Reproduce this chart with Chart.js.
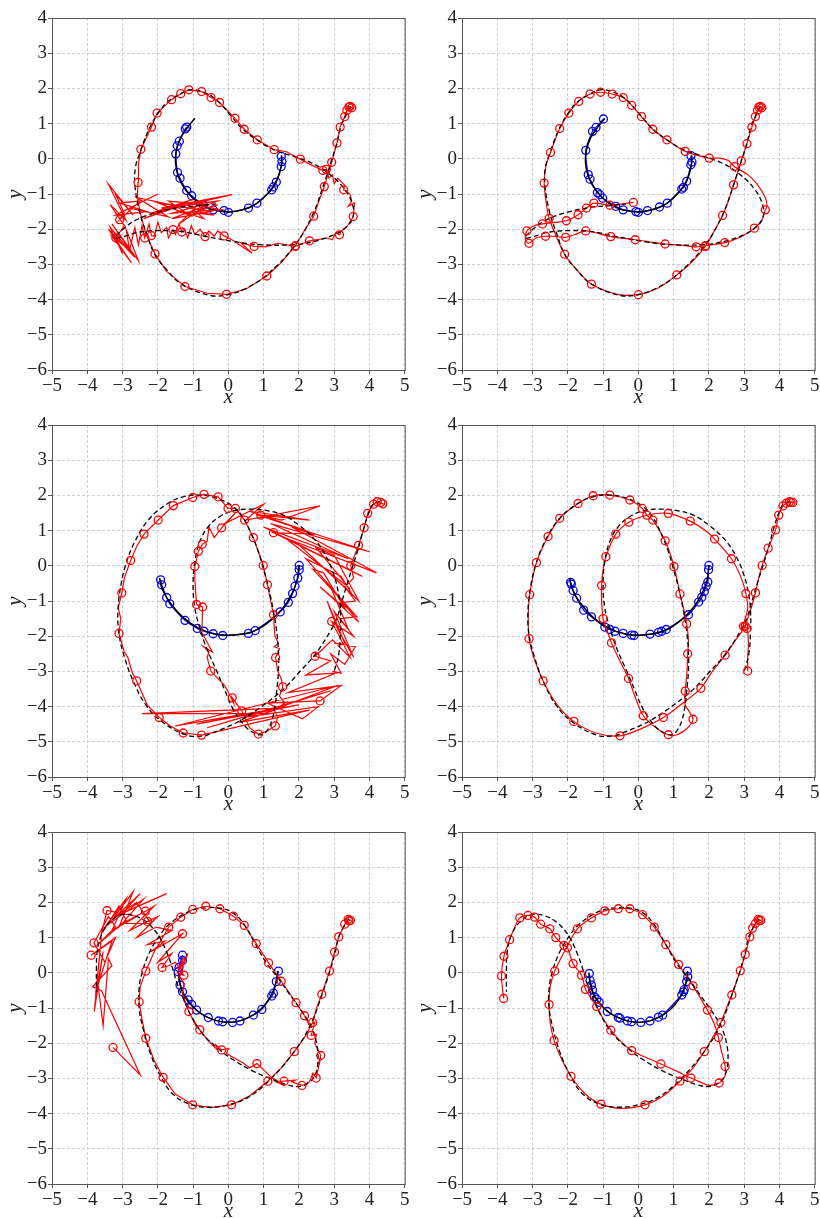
<!DOCTYPE html>
<html>
<head>
<meta charset="utf-8">
<script src="https://cdn.jsdelivr.net/npm/chart.js@4.4.0/dist/chart.umd.min.js"></script>
<style>
  html, body { margin: 0; padding: 0; background: #fff; width: 820px; height: 1218px; overflow: hidden; position: relative; }
  .cell { position: absolute; width: 410px; height: 412px; }
</style>
</head>
<body>
<div class="cell" style="left:0;top:0"><canvas id="p1" width="410" height="412"></canvas></div>
<div class="cell" style="left:410px;top:0"><canvas id="p2" width="410" height="412"></canvas></div>
<div class="cell" style="left:0;top:407px"><canvas id="p3" width="410" height="412"></canvas></div>
<div class="cell" style="left:410px;top:407px"><canvas id="p4" width="410" height="412"></canvas></div>
<div class="cell" style="left:0;top:814px"><canvas id="p5" width="410" height="412"></canvas></div>
<div class="cell" style="left:410px;top:814px"><canvas id="p6" width="410" height="412"></canvas></div>
<script>
'use strict'

// axis limits
var xRange = [-5, 5];
var yRange = [-6, 4];

// ---- top row: reference curves ----
var solidTop = [[-0.95,1.15],[-1.15,0.9],[-1.35,0.6],[-1.47,0.25],[-1.5,-0.1],[-1.42,-0.5],[-1.2,-0.9],[-0.85,-1.25],[-0.45,-1.45],[0,-1.51],[0.4,-1.45],[0.8,-1.27],[1.15,-0.95],[1.38,-0.6],[1.5,-0.2],[1.51,0.1]];
var dashTop = [[3.46,1.49],[3.32,1.2],[3.19,0.92],[3.08,0.45],[2.92,-0.06],[2.7,-0.74],[2.39,-1.59],[1.9,-2.44],[1.09,-3.3],[0.52,-3.67],[0,-3.86],[-0.52,-3.88],[-1.33,-3.56],[-1.75,-3.15],[-2.09,-2.71],[-2.32,-2.11],[-2.51,-1.54],[-2.65,-0.74],[-2.63,-0.22],[-2.51,0.16],[-2.25,0.84],[-1.99,1.3],[-1.71,1.63],[-1.37,1.84],[-1.09,1.96],[-0.76,1.91],[-0.43,1.75],[-0.19,1.53],[0.09,1.2],[0.43,0.82],[0.81,0.54],[1.28,0.26],[1.85,0.07],[2.37,-0.12],[2.89,-0.45],[3.27,-0.83],[3.51,-1.26],[3.54,-1.64],[3.36,-1.92],[2.99,-2.16],[2.42,-2.35],[1.85,-2.44],[0.9,-2.44],[0.14,-2.35],[-0.62,-2.21],[-1.37,-2.06],[-1.94,-2.04],[-2.51,-2.08],[-3.2,-2.25],[-2.89,-1.92],[-2.51,-1.69],[-1.94,-1.5],[-1.37,-1.38],[-0.81,-1.33],[-0.35,-1.28]];

// top row: observed part (blue)
var blueTopL = [[-1.18,0.9],[-1.22,0.85],[-1.39,0.5],[-1.45,0.37],[-1.49,0.14],[-1.44,-0.39],[-1.37,-0.55],[-1.18,-0.9],[-1.04,-1.05],[-0.71,-1.31],[-0.43,-1.45],[-0.12,-1.47],[0,-1.52],[0.57,-1.4],[0.81,-1.26],[1.23,-0.88],[1.28,-0.8],[1.36,-0.66],[1.5,-0.22],[1.52,-0.08],[1.5,0.07]];
var blueTopR = [[-0.99,1.13],[-1.2,0.89],[-1.3,0.78],[-1.49,0.24],[-1.42,-0.45],[-1.37,-0.58],[-1.16,-0.96],[-1.09,-1.02],[-1.01,-1.12],[-0.64,-1.35],[-0.43,-1.45],[-0.07,-1.5],[0,-1.52],[0.26,-1.47],[0.6,-1.37],[0.82,-1.26],[1.23,-0.86],[1.28,-0.81],[1.37,-0.64],[1.49,-0.17],[1.52,-0.09],[1.49,0.09]];

// top row: predicted part (red), third entry 1 = drawn with a marker
var redTopL = [[3.42,1.47,1],[3.5,1.45,1],[3.45,1.49,1],[3.36,1.38,1],[3.3,1.2,1],[3.17,0.9,1],[3.08,0.45,1],[2.93,-0.1,1],[2.72,-0.79,1],[2.55,-1.25],[2.42,-1.63,1],[2.15,-2.05],[1.9,-2.47,1],[1.5,-2.95],[1.09,-3.33,1],[0.5,-3.7],[-0.05,-3.85,1],[-0.6,-3.82],[-1.23,-3.63,1],[-1.75,-3.2],[-2.08,-2.7,1],[-2.35,-2.1],[-2.48,-1.6],[-2.58,-1.1],[-2.56,-0.67,1],[-2.55,-0.15],[-2.48,0.27,1],[-2.18,0.9,1],[-2.02,1.3,1],[-1.61,1.68,1],[-1.35,1.85,1],[-1.12,1.96,1],[-0.76,1.91,1],[-0.49,1.74,1],[-0.25,1.6,1],[0.19,1.15,1],[0.45,0.84,1],[0.82,0.54,1],[1.3,0.26,1],[1.65,0.2],[2.04,-0.01,1],[2.4,-0.2],[2.68,-0.33,1],[2.78,-0.3,1],[2.85,-0.55],[2.95,-0.45],[3.0,-0.7],[3.1,-0.55],[3.3,-0.75],[3.27,-0.88,1],[3.45,-1.0],[3.5,-1.2],[3.4,-1.35],[3.58,-1.25],[3.54,-1.64,1],[3.35,-1.95],[3.2,-2.05],[3.15,-2.16,1],[3.05,-2.1],[2.95,-2.3],[2.8,-2.25],[2.3,-2.33,1],[1.9,-2.49,1],[1.4,-2.4],[1.05,-2.5],[0.73,-2.49,1],[0.35,-2.38],[0.67,-2.68],[0.1,-2.3],[-0.12,-2.19,1],[-0.3,-2.05],[-0.4,-2.2],[-0.55,-2.05],[-0.66,-2.21,1],[-0.8,-2.0],[-0.95,-2.15],[-1.05,-1.9],[-1.15,-2.25],[-1.25,-2.0],[-1.32,-2.08,1],[-1.4,-1.85],[-1.5,-2.15],[-1.57,-2.01,1],[-1.7,-2.25],[-1.75,-1.95],[-1.9,-2.1],[-2.0,-1.8],[-2.1,-2.2],[-2.18,-2.18,1],[-2.25,-1.85],[-2.37,-2.25,1],[-2.45,-1.9],[-2.55,-2.45],[-2.65,-1.95],[-2.8,-2.6],[-2.9,-2.0],[-2.55,-2.9],[-3.3,-1.85],[-2.65,-2.8],[-3.4,-2.0],[-2.75,-2.95],[-3.3,-2.2],[-2.85,-2.55],[-3.35,-1.95],[-3.0,-2.7],[-3.19,-2.25,1],[-2.95,-1.9],[-3.35,-1.3],[-2.9,-1.75],[-3.4,-0.72],[-2.7,-1.6],[-3.2,-1.0],[-2.95,-1.55],[-3.08,-1.73,1],[-2.5,-1.2],[-3.1,-1.25],[-2.3,-1.5],[-3.2,-1.6],[-2.0,-1.0],[-2.8,-1.4],[-1.7,-1.65],[-2.6,-1.1],[-1.4,-1.35],[-2.4,-1.7],[-1.0,-1.15],[-2.2,-1.55],[0.1,-1.02],[-1.9,-1.4],[-0.3,-1.2],[-1.6,-1.7],[-0.5,-1.5],[-2.0,-1.25],[-1.1,-1.6],[-1.7,-1.2],[-0.6,-1.3],[-1.4,-1.85],[-0.9,-1.35],[-1.6,-1.55],[-0.2,-1.45],[-1.2,-1.25],[-0.7,-1.7],[-1.3,-1.5],[-0.4,-1.6],[-0.9,-1.5],[-0.3,-1.3]];
var redTopR = [[3.42,1.47,1],[3.5,1.45,1],[3.46,1.49,1],[3.38,1.38,1],[3.32,1.2,1],[3.22,0.9,1],[3.08,0.43,1],[2.92,-0.06,1],[2.7,-0.74,1],[2.55,-1.2],[2.39,-1.61,1],[2.15,-2.05],[1.9,-2.49,1],[1.5,-2.95],[1.09,-3.3,1],[0.55,-3.68],[0,-3.86,1],[-0.6,-3.85],[-1.33,-3.56,1],[-1.75,-3.15],[-2.09,-2.71,1],[-2.35,-2.15],[-2.53,-1.69,1],[-2.62,-1.2],[-2.67,-0.69,1],[-2.62,-0.2],[-2.49,0.18,1],[-2.23,0.86,1],[-1.97,1.3,1],[-1.69,1.63,1],[-1.37,1.84,1],[-1.07,1.89,1],[-0.74,1.84,1],[-0.43,1.74,1],[-0.19,1.52,1],[0.09,1.2,1],[0.41,0.84,1],[0.81,0.54,1],[1.33,0.21,1],[2.01,0.02,1],[2.3,0.02],[2.55,-0.05],[2.72,-0.22,1],[3.1,-0.45],[3.35,-0.7],[3.6,-1.1],[3.65,-1.35],[3.6,-1.45,1],[3.5,-1.75],[3.29,-1.97,1],[2.9,-2.22],[2.45,-2.38,1],[1.9,-2.47,1],[1.64,-2.5,1],[1.2,-2.45],[0.76,-2.42,1],[-0.09,-2.3,1],[-0.78,-2.21,1],[-1.49,-2.05,1],[-1.8,-2.15],[-2.06,-2.23,1],[-2.4,-2.2],[-2.63,-2.2,1],[-2.9,-2.25],[-3.1,-2.4,1],[-3.2,-2.3],[-3.16,-2.05,1],[-2.95,-1.9],[-2.72,-1.85,1],[-2.04,-1.76,1],[-1.71,-1.59,1],[-1.47,-1.4,1],[-1.26,-1.26,1],[-0.81,-1.32,1],[-0.45,-1.28],[-0.14,-1.24,1]];

// ---- middle row ----
var solidMid = [[-1.95,-0.35],[-1.88,-0.65],[-1.65,-1.05],[-1.3,-1.45],[-0.85,-1.77],[-0.4,-1.93],[0,-1.97],[0.4,-1.94],[0.8,-1.82],[1.2,-1.55],[1.55,-1.2],[1.8,-0.8],[1.95,-0.4],[2.0,0.02]];
var dashMid = [[4.31,1.82],[4.12,1.77],[3.98,1.49],[3.84,1.07],[3.7,0.55],[3.54,0.03],[3.36,-0.54],[3.22,-1.01],[3.08,-1.48],[2.89,-1.86],[2.46,-2.52],[2.04,-2.99],[1.56,-3.51],[1.09,-3.89],[0.62,-4.22],[0.14,-4.5],[-0.43,-4.74],[-0.71,-4.83],[-1.18,-4.81],[-1.85,-4.45],[-2.32,-3.98],[-2.7,-3.27],[-2.94,-2.61],[-3.1,-1.95],[-3.13,-1.29],[-3.06,-0.63],[-2.91,0.03],[-2.65,0.69],[-2.27,1.3],[-1.75,1.75],[-1.28,1.96],[-0.81,2.01],[-0.33,1.92],[0.14,1.68],[0.43,1.35],[0.66,0.88],[0.85,0.41],[0.99,-0.07],[1.14,-0.63],[1.28,-1.29],[1.37,-1.86],[1.42,-2.42],[1.42,-2.99],[1.37,-3.56],[1.33,-3.93],[1.23,-4.41],[1.09,-4.69],[0.95,-4.8],[0.71,-4.74],[0.47,-4.55],[0.14,-4.08],[-0.09,-3.56],[-0.33,-2.99],[-0.62,-2.33],[-0.81,-1.76],[-0.95,-1.2],[-1.0,-0.54],[-0.95,0.12],[-0.81,0.69],[-0.57,1.11],[-0.24,1.4],[0.14,1.56],[0.62,1.61],[1.09,1.57],[1.56,1.44],[1.99,1.16],[2.42,0.78],[2.75,0.31],[2.99,-0.25],[3.13,-0.82],[3.18,-1.29],[3.18,-1.86],[3.13,-2.52],[3.03,-2.9],[2.97,-3.07]];

var blueMidL = [[-1.92,-0.4],[-1.89,-0.54],[-1.75,-0.9],[-1.66,-1.08],[-1.23,-1.55],[-0.88,-1.78],[-0.69,-1.86],[-0.43,-1.93],[-0.16,-1.98],[0.57,-1.92],[0.76,-1.84],[1.47,-1.31],[1.7,-1.04],[1.82,-0.79],[1.89,-0.58],[1.97,-0.35],[2.01,-0.11],[2.01,0.01]];
var blueMidR = [[-1.92,-0.47],[-1.9,-0.52],[-1.85,-0.7],[-1.75,-0.92],[-1.55,-1.26],[-1.33,-1.45],[-0.95,-1.74],[-0.81,-1.81],[-0.66,-1.86],[-0.43,-1.92],[-0.19,-1.97],[-0.12,-1.98],[0.33,-1.94],[0.57,-1.89],[0.66,-1.86],[0.79,-1.81],[1.42,-1.39],[1.71,-1.03],[1.8,-0.89],[1.87,-0.73],[1.92,-0.58],[1.97,-0.46],[1.99,-0.11],[2.0,0.01]];

var redMidL = [[4.32,1.8,1],[4.38,1.76,1],[4.22,1.82,1],[4.12,1.75,1],[4.02,1.62],[3.95,1.49,1],[3.85,1.08,1],[3.69,0.58,1],[3.47,0.01,1],[3.55,-0.35],[3.3,-0.6],[3.6,-1.0],[3.2,-1.05],[3.65,-1.45],[3.15,-1.5],[3.55,-2.0],[2.93,-1.58,1],[3.45,-2.6],[2.95,-2.1],[2.46,-2.57,1],[2.9,-2.7],[2.2,-3.1],[3.05,-3.05],[1.7,-3.6],[3.2,-3.4],[2.6,-3.84,1],[1.1,-3.9],[2.1,-4.35],[2.55,-4.0],[0.5,-4.3],[2.9,-3.55],[-0.6,-4.6],[1.3,-4.05],[-2.45,-4.2],[1.0,-4.2],[3.1,-3.4],[-1.5,-4.55],[2.0,-3.95],[-0.9,-4.5],[1.6,-4.0],[0.3,-4.45],[2.3,-4.1],[-0.76,-4.81,1],[-1.28,-4.75,1],[-1.65,-4.55],[-1.96,-4.31,1],[-2.3,-3.95],[-2.6,-3.27,1],[-2.72,-3.05],[-2.85,-2.6],[-2.95,-2.45],[-3.1,-1.92,1],[-3.05,-1.5],[-3.12,-1.2],[-3.02,-0.77,1],[-2.95,-0.35],[-2.77,0.15,1],[-2.6,0.55],[-2.39,0.9,1],[-1.99,1.3,1],[-1.56,1.71,1],[-1.01,1.94,1],[-0.69,2.03,1],[-0.29,1.96,1],[-0.01,1.63,1],[0.2,1.63,1],[0.46,1.3,1],[0.71,0.8,1],[0.85,0.4],[0.99,0.01,1],[1.11,-0.54,1],[1.2,-1.0],[1.28,-1.39,1],[1.32,-2.0],[1.42,-2.2],[1.3,-2.3],[1.45,-2.35],[1.34,-2.61,1],[1.4,-3.0],[1.5,-3.2],[1.54,-3.44,1],[1.45,-3.7],[1.6,-3.9],[1.3,-4.1],[1.4,-4.3],[1.33,-4.55,1],[1.1,-4.7],[0.85,-4.78,1],[0.6,-4.6],[0.38,-4.12,1],[0.11,-3.75,1],[0.15,-3.9],[-0.1,-3.4],[-0.5,-2.99,1],[-0.6,-2.6],[-0.55,-2.45],[-0.7,-2.3],[-0.45,-2.45],[-0.75,-1.9],[-0.73,-1.17,1],[-0.9,-1.1,1],[-0.95,-0.4],[-0.95,-0.02,1],[-0.85,0.41,1],[-0.74,0.61,1],[-0.6,0.7],[-0.55,1.1],[-0.4,0.8],[-0.19,1.08,1],[0.2,1.5],[-0.1,1.2],[1.0,1.75],[0.5,1.3],[2.6,1.7],[1.5,1.3],[0.92,1.44,1],[2.3,1.3],[0.6,1.55],[2.2,1.0],[0.8,1.45],[4.0,0.4],[1.2,1.2],[3.4,0.2],[1.0,1.1],[3.8,-0.3],[1.28,0.94,1],[2.4,0.9],[1.8,1.1],[4.2,-0.2],[1.6,0.8],[3.4,-0.6],[2.5,0.5],[3.0,0.3],[3.7,-1.0],[2.0,0.6],[3.5,-0.8],[3.2,-0.3],[2.2,0.2],[3.6,-1.4],[2.4,-0.1],[2.7,-0.2],[3.3,-1.2],[2.6,-0.6],[3.7,-1.6],[2.9,-0.6],[3.4,-1.8],[3.0,-1.3],[3.55,-2.6],[3.1,-1.8],[2.8,-1.0],[3.3,-2.2],[3.0,-2.2],[3.6,-2.3],[3.3,-2.8],[2.9,-2.5],[3.2,-3.05],[2.95,-3.0]];
var redMidR = [[4.33,1.8,1],[4.38,1.8,1],[4.28,1.82,1],[4.2,1.78,1],[4.1,1.7,1],[3.98,1.44,1],[3.89,1.02,1],[3.68,0.5,1],[3.51,0.01,1],[3.4,-0.4],[3.32,-0.77,1],[3.2,-1.2],[3.1,-1.5],[3.03,-1.72,1],[2.8,-2.05],[2.46,-2.54,1],[2.1,-3.0],[1.77,-3.48,1],[1.2,-3.95],[0.71,-4.31,1],[0.1,-4.62],[-0.52,-4.83,1],[-1.2,-4.75],[-1.83,-4.42,1],[-2.3,-3.95],[-2.7,-3.27,1],[-2.95,-2.65],[-3.1,-2.07,1],[-3.12,-1.4],[-3.08,-0.82,1],[-2.89,0.09,1],[-2.56,0.83,1],[-2.23,1.35,1],[-1.71,1.77,1],[-1.28,1.99,1],[-0.81,2.01,1],[-0.24,1.87,1],[0.11,1.63,1],[0.24,1.44,1],[0.41,1.3,1],[0.6,1.0],[0.76,0.71,1],[0.9,0.35],[1.01,-0.02,1],[1.1,-0.4],[1.18,-0.8,1],[1.28,-1.2],[1.37,-1.65,1],[1.42,-2.1],[1.4,-2.5,1],[1.38,-3.0],[1.33,-3.56,1],[1.33,-3.95],[1.45,-4.15],[1.55,-4.36,1],[1.4,-4.6],[1.1,-4.8],[0.85,-4.8,1],[0.5,-4.6],[0.14,-4.26,1],[-0.1,-3.7],[-0.28,-3.2,1],[-0.55,-2.65],[-0.76,-2.19,1],[-0.9,-1.8],[-1.0,-1.5,1],[-1.04,-1.0],[-1.04,-0.56,1],[-1.0,-0.1],[-0.92,0.26,1],[-0.64,0.9,1],[-0.27,1.24,1],[0.3,1.45],[0.85,1.49,1],[1.47,1.27,1],[1.9,1.0],[2.16,0.76,1],[2.64,0.2,1],[2.9,-0.3],[3.05,-0.79,1],[3.1,-1.2],[3.0,-1.6],[2.98,-1.72,1],[3.08,-1.78,1],[3.12,-2.2],[3.1,-2.6],[3.1,-2.99,1]];

// ---- bottom row ----
var solidBot = [[-1.4,0.0],[-1.37,-0.3],[-1.25,-0.65],[-1.0,-0.98],[-0.65,-1.24],[-0.25,-1.38],[0.15,-1.4],[0.55,-1.28],[0.9,-1.05],[1.17,-0.72],[1.33,-0.35],[1.4,0.05]];
var dashBot = [[3.41,1.54],[3.27,1.3],[3.13,1.02],[3.03,0.59],[2.89,0.08],[2.65,-0.63],[2.37,-1.39],[1.94,-2.14],[1.18,-3.04],[0.52,-3.56],[0,-3.75],[-0.52,-3.82],[-1.04,-3.75],[-1.56,-3.46],[-1.94,-2.9],[-2.23,-2.24],[-2.42,-1.58],[-2.53,-1.01],[-2.53,-0.44],[-2.44,0.03],[-2.23,0.59],[-1.94,1.07],[-1.71,1.35],[-1.33,1.63],[-0.95,1.8],[-0.57,1.85],[-0.24,1.84],[0.09,1.73],[0.43,1.4],[0.76,0.83],[1.09,0.26],[1.42,-0.16],[1.75,-0.63],[2.09,-1.1],[2.37,-1.58],[2.51,-2.05],[2.54,-2.52],[2.46,-2.9],[2.27,-3.13],[1.99,-3.23],[1.66,-3.18],[1.28,-3.04],[0.71,-2.8],[0.14,-2.47],[-0.24,-2.19],[-0.71,-1.76],[-1.04,-1.25],[-1.28,-0.73],[-1.47,-0.25],[-1.58,0.12],[-1.75,0.59],[-1.99,1.07],[-2.32,1.44],[-2.7,1.63],[-3.03,1.65],[-3.36,1.44],[-3.6,1.07],[-3.72,0.59],[-3.74,0.12],[-3.74,-0.54]];

var blueBotL = [[-1.3,0.5],[-1.4,0.15],[-1.3,0.35],[-1.42,0.03],[-1.37,-0.35],[-1.3,-0.54],[-1.14,-0.77],[-1.04,-0.9],[-0.9,-1.06],[-0.57,-1.27],[-0.28,-1.37],[-0.16,-1.39],[0.12,-1.41],[0.33,-1.37],[0.71,-1.2],[0.95,-1.04],[1.23,-0.66],[1.28,-0.58],[1.36,-0.25],[1.42,0.05]];
var blueBotR = [[-1.39,-0.02],[-1.37,-0.21],[-1.33,-0.35],[-1.3,-0.49],[-1.25,-0.68],[-1.18,-0.75],[-1.11,-0.84],[-0.88,-1.1],[-0.57,-1.27],[-0.52,-1.29],[-0.31,-1.37],[-0.19,-1.39],[0.07,-1.41],[0.33,-1.37],[0.57,-1.26],[0.69,-1.2],[1.23,-0.63],[1.28,-0.54],[1.3,-0.48],[1.37,-0.25],[1.4,-0.11],[1.39,0.05]];

var redBotL = [[3.4,1.52,1],[3.46,1.49,1],[3.42,1.47,1],[3.3,1.38,1],[3.13,1.02,1],[3.01,0.59,1],[2.87,0.05,1],[2.65,-0.61,1],[2.5,-1.0],[2.39,-1.41,1],[2.15,-1.85],[1.87,-2.24,1],[1.5,-2.7],[1.12,-3.08,1],[0.6,-3.5],[0.09,-3.75,1],[-0.5,-3.83],[-1.01,-3.75,1],[-1.5,-3.45],[-1.85,-2.97,1],[-2.1,-2.5],[-2.34,-1.86,1],[-2.45,-1.3],[-2.53,-0.82,1],[-2.5,-0.4],[-2.34,0.05,1],[-2.1,0.6],[-1.69,1.3,1],[-1.35,1.58,1],[-1.01,1.8,1],[-0.64,1.89,1],[-0.24,1.82,1],[0.14,1.61,1],[0.45,1.35,1],[0.79,0.83,1],[1.14,0.28,1],[1.5,-0.24,1],[1.92,-0.85,1],[2.16,-1.22,1],[2.3,-1.5],[2.45,-1.4],[2.35,-1.78,1],[2.5,-1.75],[2.45,-2.0],[2.62,-2.35,1],[2.55,-2.6],[2.62,-2.4],[2.49,-2.99,1],[2.4,-2.85],[2.3,-3.1],[2.09,-3.2,1],[1.8,-3.1],[1.9,-3.05],[1.58,-3.08,1],[1.35,-3.1],[1.6,-3.2],[1.2,-2.95],[0.81,-2.58,1],[0.6,-2.7],[0.4,-2.55],[-0.05,-2.3],[0.0,-2.15],[-0.19,-2.19,1],[-0.35,-2.05],[-0.3,-2.2],[-0.6,-1.9],[-0.81,-1.62,1],[-0.95,-1.4],[-0.9,-1.55],[-1.12,-1.1,1],[-1.2,-0.9],[-1.15,-1.0],[-1.3,-0.6],[-1.25,-0.3],[-1.4,-0.1],[-1.15,0.55],[-1.35,0.15],[-1.28,0.45],[-1.45,0.0],[-1.26,-0.07,1],[-1.5,0.3],[-1.7,0.2],[-1.88,0.15,1],[-1.6,0.55],[-2.0,0.3],[-1.3,1.11,1],[-2.2,0.6],[-1.8,0.9],[-2.3,0.8],[-1.6,1.2],[-2.05,1.3],[-2.6,1.0],[-2.0,1.6],[-2.29,1.46,1],[-2.8,1.2],[-2.1,1.9],[-2.35,1.75,1],[-3.0,1.4],[-2.2,1.4],[-2.6,2.0],[-3.2,1.6],[-1.75,2.25],[-3.0,1.7],[-2.5,2.25],[-3.3,1.5],[-2.7,2.3],[-3.1,1.3],[-2.4,2.1],[-3.5,1.3],[-2.9,2.1],[-3.3,1.2],[-2.6,1.6],[-3.44,1.77,1],[-3.6,1.1],[-3.1,1.9],[-2.9,1.5],[-3.7,0.8],[-3.2,1.3],[-3.4,1.6],[-3.81,0.85,1],[-3.5,0.3],[-3.2,1.0],[-3.89,0.5,1],[-3.3,0.9],[-3.75,-0.5],[-3.6,1.0],[-3.8,-1.1],[-3.55,0.6],[-3.7,-0.3],[-3.55,-1.5],[-3.4,0.4],[-3.3,0.2],[-3.85,-0.4],[-3.6,-0.5],[-2.5,-2.9],[-3.27,-2.12,1]];
var redBotR = [[3.4,1.52,1],[3.47,1.49,1],[3.42,1.48,1],[3.32,1.4,1],[3.24,1.27,1],[3.16,1.02,1],[3.03,0.52,1],[2.89,0.06,1],[2.65,-0.63,1],[2.5,-1.0],[2.34,-1.41,1],[2.1,-1.85],[1.87,-2.24,1],[1.55,-2.7],[1.18,-3.08,1],[0.7,-3.5],[0.19,-3.75,1],[-0.5,-3.85],[-1.06,-3.73,1],[-1.5,-3.45],[-1.91,-2.94,1],[-2.2,-2.4],[-2.39,-1.92,1],[-2.5,-1.4],[-2.53,-0.9,1],[-2.5,-0.4],[-2.37,0.05,1],[-2.1,0.6],[-1.73,1.25,1],[-1.33,1.56,1],[-0.95,1.76,1],[-0.57,1.82,1],[-0.24,1.82,1],[0.12,1.65,1],[0.45,1.3,1],[0.78,0.8,1],[1.14,0.24,1],[1.55,-0.37,1],[1.96,-1.06,1],[2.15,-1.45],[2.27,-1.84,1],[2.35,-2.2],[2.46,-2.66,1],[2.45,-2.95],[2.29,-3.13,1],[2.0,-3.2],[1.75,-3.1],[1.49,-2.99,1],[1.1,-2.8],[0.64,-2.59,1],[0.2,-2.4],[-0.19,-2.21,1],[-0.5,-1.95],[-0.78,-1.63,1],[-1.0,-1.3],[-1.18,-0.96,1],[-1.35,-0.7],[-1.5,-0.47,1],[-1.61,-0.07,1],[-1.85,0.26,1],[-2.01,0.71,1],[-2.11,0.78,1],[-2.34,1.0,1],[-2.51,1.25,1],[-2.77,1.38,1],[-2.94,1.58,1],[-3.13,1.63,1],[-3.36,1.56,1],[-3.5,1.3],[-3.65,0.94,1],[-3.81,0.47,1],[-3.88,-0.09,1],[-3.82,-0.73,1]];

var tickFont = { family: 'Liberation Serif', size: 19 };
var labelFont = { family: 'Liberation Serif', size: 21, style: 'italic', lineHeight: 1 };

function fmt(v) {
  return v < 0 ? '\u2212' + Math.abs(v) : String(v);
}

function toXY(path) {
  return path.map(function (p) { return { x: p[0], y: p[1] }; });
}

function markedOnly(path) {
  return toXY(path.filter(function (p) { return p[2]; }));
}

// box round the plot area, like the four spines
var framePlugin = {
  id: 'frame',
  afterDraw: function (chart) {
    var a = chart.chartArea;
    var ctx = chart.ctx;
    ctx.save();
    ctx.strokeStyle = '#555';
    ctx.lineWidth = 1;
    ctx.strokeRect(a.left + 0.5, a.top + 0.5, a.right - a.left, a.bottom - a.top);
    ctx.restore();
  }
};

function axis(range, label, isX) {
  return {
    type: 'linear',
    min: range[0],
    max: range[1],
    ticks: { stepSize: 1, autoSkip: false, maxRotation: 0, font: tickFont, color: '#222', padding: 1, callback: fmt },
    grid: { color: '#c4c4c4', lineWidth: 0.8, tickLength: 4, tickColor: '#555', tickWidth: 1 },
    border: { display: false, dash: [3, 2] },
    title: { display: true, text: label, font: labelFont, color: '#222',
             padding: isX ? { top: 0, bottom: 4 } : { top: 5, bottom: 0 } },
    afterFit: function (s) {
      if (isX) { s.height = 42; s.paddingLeft = 0; s.paddingRight = 0; }
      else { s.width = 52; s.paddingTop = 0; s.paddingBottom = 0; }
    }
  };
}

function drawPanel(id, red, dashed, solid, blue, smooth) {
  new Chart(document.getElementById(id), {
    type: 'scatter',
    data: {
      datasets: [
        { data: markedOnly(red), showLine: false, pointRadius: 4, pointBorderWidth: 1.3,
          pointBorderColor: '#ff0000', pointBackgroundColor: 'rgba(0,0,0,0)' },
        { data: toXY(dashed), showLine: true, borderColor: '#000', borderWidth: 1.3,
          borderDash: [5, 3], pointRadius: 0, tension: 0.4 },
        { data: toXY(red), showLine: true, borderColor: '#ff0000', borderWidth: 1.2,
          pointRadius: 0, tension: smooth },
        { data: toXY(solid), showLine: true, borderColor: '#000', borderWidth: 1.5,
          pointRadius: 0, tension: 0.4 },
        { data: toXY(blue), showLine: true, borderColor: '#0000ff', borderWidth: 1.2, tension: 0.3,
          pointRadius: 4, pointBorderWidth: 1.3, pointBorderColor: '#0000ff', pointBackgroundColor: 'rgba(0,0,0,0)' }
      ]
    },
    options: {
      responsive: false,
      animation: false,
      events: [],
      layout: { padding: { left: 0, right: 5, top: 18, bottom: 0 } },
      plugins: { legend: { display: false }, tooltip: { enabled: false } },
      scales: { x: axis(xRange, 'x', true), y: axis(yRange, 'y', false) }
    },
    plugins: [framePlugin]
  });
}

drawPanel('p1', redTopL, dashTop, solidTop, blueTopL, 0);
drawPanel('p2', redTopR, dashTop, solidTop, blueTopR, 0.3);
drawPanel('p3', redMidL, dashMid, solidMid, blueMidL, 0);
drawPanel('p4', redMidR, dashMid, solidMid, blueMidR, 0.3);
drawPanel('p5', redBotL, dashBot, solidBot, blueBotL, 0);
drawPanel('p6', redBotR, dashBot, solidBot, blueBotR, 0.3);
</script>
</body>
</html>
